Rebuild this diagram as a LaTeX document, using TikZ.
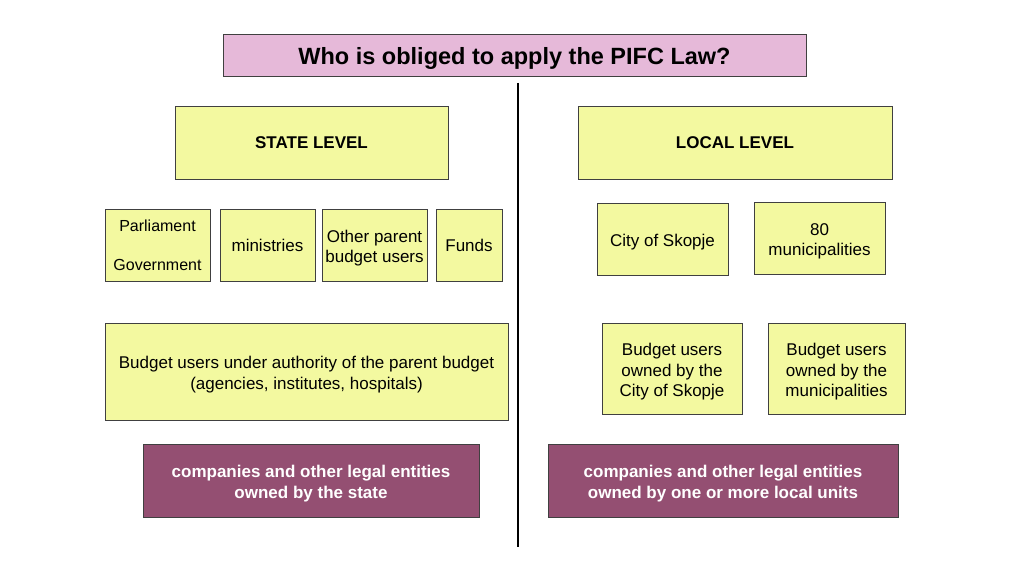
\documentclass[tikz,border=0pt]{standalone}
\usepackage{fontspec}
\setmainfont{Liberation Sans}
\definecolor{boxyellow}{HTML}{F3F9A0}
\definecolor{titlepink}{HTML}{E6B9D9}
\definecolor{plum}{HTML}{944F72}
\newcommand{\dnstrut}{\rule{0pt}{1.1em}}
\begin{document}
\begin{tikzpicture}[x=1pt,y=-1pt,
  bx/.style={draw=black!75,line width=0.8pt,inner sep=1pt,align=center,font=\fontsize{17}{20.5}\selectfont},
  yb/.style={bx,fill=boxyellow},
  pb/.style={bx,fill=plum,text=white,font=\fontsize{17}{20.5}\selectfont\bfseries},
  sz/.style 2 args={minimum width=#1pt,minimum height=#2pt}]
\useasboundingbox[fill=white] (0,0) rectangle (1024,575);
\node[bx,fill=titlepink,sz={583}{42},font=\fontsize{23.5}{28}\selectfont\bfseries] (title) at (514.5,55) {\rule{0pt}{1.0em}Who is obliged to apply the PIFC Law?};
\node[yb,sz={273}{73},font=\fontsize{17}{20}\selectfont\bfseries] (state) at (311.5,142.5) {STATE LEVEL};
\node[yb,sz={314}{73},font=\fontsize{17}{20}\selectfont\bfseries] (local) at (735,142.5) {LOCAL LEVEL};
\node[yb,sz={105}{72},font=\fontsize{16}{19.5}\selectfont] (parl) at (157.5,245) {Parliament\\[0pt]\\[0pt]Government};
\node[yb,sz={95}{72}] (min) at (267.5,245) {ministries};
\node[yb,sz={105}{72}] (other) at (374.5,245) {\dnstrut Other parent\\budget users};
\node[yb,sz={66}{72}] (funds) at (469,245) {Funds};
\node[yb,sz={131}{72}] (city) at (662.5,239) {\dnstrut City of Skopje};
\node[yb,sz={131}{72}] (muni) at (819.5,238) {\dnstrut 80\\municipalities};
\node[yb,sz={403}{97}] (bu) at (306.5,371.5) {\dnstrut Budget users under authority of the parent budget\\(agencies, institutes, hospitals)};
\node[yb,sz={140}{91}] (bucity) at (672,368.5) {\dnstrut Budget users\\owned by the\\City of Skopje};
\node[yb,sz={137}{91}] (bumuni) at (836.5,368.5) {\dnstrut Budget users\\owned by the\\municipalities};
\node[pb,sz={336}{73}] (cstate) at (311,480.5) {\dnstrut companies and other legal entities\\owned by the state};
\node[pb,sz={350}{73}] (clocal) at (723,480.5) {\dnstrut companies and other legal entities\\owned by one or more local units};
\coordinate (vtop) at (518,83);
\coordinate (vbot) at (518,547);
\draw[line width=2.5pt,black] (vtop) -- (vbot);
\end{tikzpicture}
\end{document}
